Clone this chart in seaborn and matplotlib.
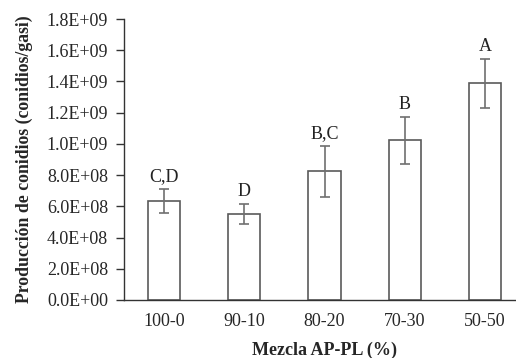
import numpy as np
import pandas as pd
import matplotlib
matplotlib.use("Agg")
import matplotlib.pyplot as plt
import seaborn as sns

# Values
mezcla = ["100-0", "90-10", "80-20", "70-30", "50-50"]
produccion = [6.32e8, 5.50e8, 8.24e8, 1.022e9, 1.387e9]
error = [0.76e8, 0.63e8, 1.62e8, 1.52e8, 1.56e8]
letras = ["C,D", "D", "B,C", "B", "A"]

df = pd.DataFrame({"mezcla": mezcla, "produccion": produccion, "error": error})

sns.set_style("white")
plt.rcParams["font.family"] = ["Liberation Serif", "DejaVu Serif"]

fig = plt.figure(figsize=(5.16, 3.58), dpi=100)
ax = fig.add_axes([124 / 516, 1 - 300 / 358, 401 / 516, 281 / 358])

sns.barplot(data=df, x="mezcla", y="produccion", errorbar=None, width=0.4,
            color="white", edgecolor="#5a5a5a", linewidth=1.2, ax=ax)

x = np.arange(len(mezcla))
ax.errorbar(x, df["produccion"], yerr=df["error"], fmt="none",
            ecolor="#707070", elinewidth=1.2, capsize=3.5, capthick=1.2)

# significance letters above the error bars
for xi, yi, ei, lab in zip(x, produccion, error, letras):
    ax.annotate(lab, (xi, yi + ei), xytext=(0, 3), textcoords="offset points",
                ha="center", va="bottom", fontsize=13, color="#222222")

ax.set_ylim(0, 1.8e9)
ax.set_xlim(-0.5, len(mezcla) - 0.5)
ax.set_yticks(np.arange(0, 1.81e9, 2e8))
ax.set_yticklabels([f"{v:.1E}" for v in np.arange(0, 1.81e9, 2e8)])

# x ticks at category borders, labels at centres
ax.set_xticks(x)
ax.set_xticks(np.arange(-0.5, len(mezcla)), minor=True)
ax.tick_params(axis="x", which="major", length=0, pad=9.5, labelsize=13)
ax.tick_params(axis="x", which="minor", length=5, width=1, color="#333333", direction="out")
ax.tick_params(axis="y", length=5.5, width=1, color="#333333", direction="out",
               labelsize=13, pad=6, left=True)

for s in ["top", "right"]:
    ax.spines[s].set_visible(False)
for s in ["left", "bottom"]:
    ax.spines[s].set_color("#333333")
    ax.spines[s].set_linewidth(1)

ax.set_xlabel("Mezcla AP-PL (%)", fontsize=13, fontweight="bold", labelpad=8.5)
ax.set_ylabel("Producción de conidios (conidios/gasi)", fontsize=12.8,
              fontweight="bold", labelpad=10)
ax.grid(False)

fig.savefig("out.png", dpi=100)
